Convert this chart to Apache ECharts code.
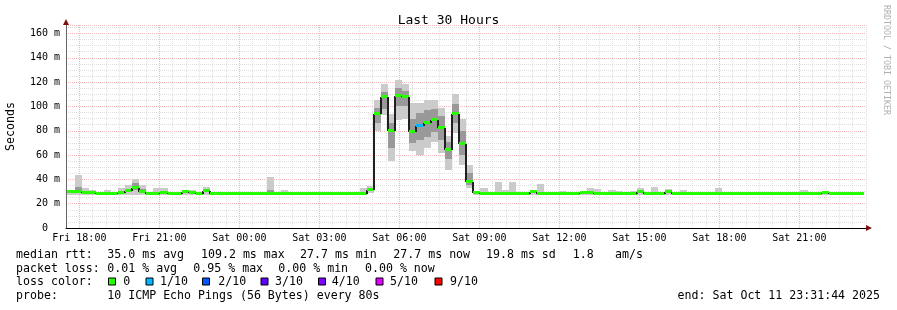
<!DOCTYPE html>
<html><head><meta charset="utf-8">
<script src="https://cdn.jsdelivr.net/npm/echarts@6/dist/echarts.min.js"></script>
<style>html,body{margin:0;padding:0;background:#fff}#c{width:897px;height:310px}</style>
</head><body><div id="c"></div><script>
// time in minutes relative to Fri 18:00
const GRAPH_START = -28.27;
const BUCKET_MIN = 16;
const FIRST_BUCKET = -25.5;
const xTickLabels = ['Fri 18:00','Fri 21:00','Sat 00:00','Sat 03:00','Sat 06:00','Sat 09:00','Sat 12:00','Sat 15:00','Sat 18:00','Sat 21:00'];
const yTickLabels = ['0  ','20 m','40 m','60 m','80 m','100 m','120 m','140 m','160 m'];

const median = [
 29.5,29.5,29,28.5,28,28,28,29,30.5,33,
 29.5,28.2,28.2,29,28.2,28.2,29.8,29,28.2,30.4,
 28,28,28,28,28,28,28,28,28,28,
 28,28,28,28,28,28,28,28,28,28,
 28,28,31,93.5,107.5,80,109,108,79,84,
 86.5,89,82,64.5,94,69,38,28.5,28,28,
 28,28,28,28,28,29.5,28,28,28,28,
 28,28,29,28.5,28,28,28,28,28,28,
 29.5,28,28,28,29.5,28,28,28,28,28,
 28,28,28,28,28,28,28,28,28,28,
 28,28,28,28,28,28,28.5,28,28,28,
 28,28];
const smokeHi = [
 31,43.5,32.5,31,29,31,30,32.5,35,40.5,
 35,29.5,33,33,29.5,29,30.5,31,29,34,
 29,29,29,29,29,29,29,29,42,29,
 31,29,29,29,29,29,29,29,29,29,
 29,33,34.5,105.5,118.5,94,122,118.5,103,103,
 105,105,98.5,75.5,110,90,52,29,32.5,29,
 38,31,38,29,29,31.5,36,29,29,30.5,
 29,29,30.5,32.5,32,29,31,30.5,29,30.5,
 32.5,29,33.7,29,32,29,31,29,29,29,
 29,32.5,29,29,29,29,29,29,29,30,
 29,29,29,31,29,29,30,29,29,29,
 29,29];
const smokeLo = [
 27.5,27.5,27.5,27.5,27.5,27.5,27.5,27.5,27.5,27.5,
 27.5,27.5,27.5,27.5,27.5,27.5,27.5,27.5,27.5,27.5,
 27.5,27.5,27.5,27.5,27.5,27.5,27.5,27.5,27.5,27.5,
 27.5,27.5,27.5,27.5,27.5,27.5,27.5,27.5,27.5,27.5,
 27.5,27.5,29,79.5,93,55.5,89,89.5,63,60,
 66,71,62,48,78,52,33,27.5,27.5,27.5,
 27.5,27.5,27.5,27.5,27.5,27.5,27.5,27.5,27.5,27.5,
 27.5,27.5,27.5,27.5,27.5,27.5,27.5,27.5,27.5,27.5,
 27.5,27.5,27.5,27.5,27.5,27.5,27.5,27.5,27.5,27.5,
 27.5,27.5,27.5,27.5,27.5,27.5,27.5,27.5,27.5,27.5,
 27.5,27.5,27.5,27.5,27.5,27.5,27.5,27.5,27.5,27.5,
 27.5,27.5];
const smokeQ1 = [
 null,29,null,null,null,null,null,null,null,31,
 29,null,null,null,null,null,null,null,null,null,
 null,null,null,null,null,null,null,null,28,null,
 null,null,null,null,null,null,null,null,null,null,
 null,null,null,86,98,66,100,100,70,72,
 75,79,72,57,86,60,35,null,28,null,
 null,null,null,null,null,null,null,null,null,null,
 null,null,null,28,null,null,null,null,null,null,
 null,null,null,null,null,null,null,null,null,null,
 null,null,null,null,null,null,null,null,null,null,
 null,null,null,null,null,null,null,null,null,null,
 null,null];
const smokeQ3 = [
 null,34,null,null,null,null,null,null,null,37,
 32,null,null,null,null,null,null,null,null,null,
 null,null,null,null,null,null,null,null,31,null,
 null,null,null,null,null,null,null,null,null,null,
 null,null,null,99,112,86,115,113,90,95,
 97,98,92,71,102,80,45,null,30,null,
 null,null,null,null,null,null,null,null,null,null,
 null,null,null,30,null,null,null,null,null,null,
 null,null,null,null,null,null,null,null,null,null,
 null,null,null,null,null,null,null,null,null,null,
 null,null,null,null,null,null,null,null,null,null,
 null,null];
const lossTenths = [
 0,0,0,0,0,0,0,0,0,0, 0,0,0,0,0,0,0,0,0,0,
 0,0,0,0,0,0,0,0,0,0, 0,0,0,0,0,0,0,0,0,0,
 0,0,0,0,0,0,0,0,0,1, 0,0,0,0,0,0,0,0,0,0,
 0,0,0,0,0,0,0,0,0,0, 0,0,0,0,0,0,0,0,0,0,
 0,0,0,0,0,0,0,0,0,0, 0,0,0,0,0,0,0,0,0,0,
 0,0,0,0,0,0,0,0,0,0, 0,0];
const lossColors = {0:'#26ff00',1:'#00b8ff',2:'#0059ff',3:'#5e00ff',4:'#7e00ff',5:'#dd00ff',9:'#ff0000'};
const legendLoss = [['0','#26ff00'],['1/10','#00b8ff'],['2/10','#0059ff'],['3/10','#5e00ff'],['4/10','#7e00ff'],['5/10','#dd00ff'],['9/10','#ff0000']];

const bStart = k => (k === 0 ? GRAPH_START : FIRST_BUCKET + BUCKET_MIN * k);
const bEnd = k => FIRST_BUCKET + BUCKET_MIN * (k + 1);

const outerData = median.map((m, k) => [bStart(k), bEnd(k), smokeLo[k], smokeHi[k]]);
const innerData = [];
median.forEach((m, k) => { if (smokeQ1[k] != null) innerData.push([bStart(k), bEnd(k), smokeQ1[k], smokeQ3[k]]); });
const medData = median.map((m, k) => [bStart(k), bEnd(k), m, k === 0 ? NaN : median[k - 1], lossTenths[k]]);

function smokeRender(color) {
  return function (params, api) {
    const a = api.coord([api.value(0), api.value(3)]);
    const b = api.coord([api.value(1), api.value(2)]);
    const x0 = Math.round(a[0]), x1 = Math.round(b[0]);
    return {type: 'rect', shape: {x: x0, y: Math.round(a[1]), width: x1 - x0, height: Math.round(b[1]) - Math.round(a[1])}, style: {fill: color}};
  };
}
function medRender(params, api) {
  const s = api.value(0), e = api.value(1), m = api.value(2), prev = api.value(3), loss = api.value(4);
  const a = api.coord([s, m]), b = api.coord([e, m]);
  const x0 = Math.round(a[0]), x1 = Math.round(b[0]), y = Math.round(a[1]);
  const ch = [];
  if (!isNaN(prev)) {
    const p = api.coord([s, prev]);
    ch.push({type: 'line', shape: {x1: x0, y1: Math.round(p[1]), x2: x0, y2: y}, style: {stroke: '#202020', lineWidth: 2}});
  }
  ch.push({type: 'line', shape: {x1: x0, y1: y, x2: x1, y2: y}, style: {stroke: '#202020', lineWidth: 2}});
  ch.push({type: 'rect', shape: {x: x0, y: y - 2, width: x1 - x0, height: 3}, style: {fill: lossColors[loss]}});
  return {type: 'group', children: ch};
}

const MONO = '"DejaVu Sans Mono", monospace';
const GRAY = '#e0e0e0', RED = '#f5b8b8';
const xGridColors = [GRAY, RED, GRAY, GRAY, GRAY, GRAY];

const LF = '11.6px ' + MONO;
const txt = (s, x, y, extra) => Object.assign({type: 'text', x: x, y: y, silent: true, style: {text: s, font: LF, fill: '#000', textAlign: 'left', textVerticalAlign: 'middle', align: 'left', verticalAlign: 'middle'}}, extra || {});
const graphics = [
  txt('median rtt:', 16, 255), txt('35.0 ms avg', 107.3, 255), txt('109.2 ms max', 201, 255), txt('27.7 ms min', 300, 255),
  txt('27.7 ms now', 393.3, 255), txt('19.8 ms sd', 486, 255), txt('1.8', 572.7, 255), txt('am/s', 615, 255),
  txt('packet loss:', 16, 268.5), txt('0.01 % avg', 107.3, 268.5), txt('0.95 % max', 193.3, 268.5), txt('0.00 % min', 278.3, 268.5), txt('0.00 % now', 365, 268.5),
  txt('loss color:', 16, 282),
  txt('probe:', 16, 295.5), txt('10 ICMP Echo Pings (56 Bytes) every 80s', 107.3, 295.5),
  {type: 'text', x: 880, y: 295.5, silent: true, style: {text: 'end: Sat Oct 11 23:31:44 2025', font: LF, fill: '#000', textAlign: 'right', textVerticalAlign: 'middle', align: 'right', verticalAlign: 'middle'}},
  {type: 'text', x: 886, y: 5, rotation: -Math.PI / 2, silent: true, style: {text: 'RRDTOOL / TOBI OETIKER', font: '8.3px ' + MONO, fill: '#b0b0b0', textAlign: 'left', textVerticalAlign: 'middle', align: 'left', verticalAlign: 'middle'}}
];
const boxX = [108.5, 146, 202.5, 261, 318.5, 376, 435];
const labX = [123.3, 160, 218.3, 275, 331.7, 390, 450];
legendLoss.forEach((l, i) => {
  graphics.push({type: 'rect', silent: true, shape: {x: boxX[i], y: 278, width: 7, height: 7}, style: {fill: l[1], stroke: '#000', lineWidth: 1}});
  graphics.push(txt(l[0], labX[i], 282));
});

const chart = echarts.init(document.getElementById('c'), null, {renderer: 'canvas'});
chart.setOption({
  animation: false,
  backgroundColor: '#fff',
  title: {text: 'Last 30 Hours', left: 'center', top: 9, textStyle: {fontFamily: MONO, fontSize: 13, fontWeight: 'normal', color: '#000'}},
  grid: {left: 66, right: 31, top: 25, bottom: 82, containLabel: false, outerBoundsMode: 'none'},
  xAxis: [{
    type: 'value', min: -30, max: 1770, interval: 30,
    axisLine: {show: true, onZero: false, lineStyle: {color: '#000', width: 1}},
    axisTick: {show: false},
    axisLabel: {show: true, margin: 5, color: '#000', fontFamily: MONO, fontSize: 10, showMinLabel: true, showMaxLabel: true,
      formatter: v => (v % 180 === 0 && v >= 0) ? (xTickLabels[v / 180] || '') : ''},
    splitLine: {show: true, lineStyle: {color: xGridColors, type: [1, 1], width: 1}}
  }, {
    type: 'value', min: -30, max: 1770, position: 'bottom',
    axisLine: {show: true, onZero: false, symbol: ['none', 'triangle'], symbolSize: [6, 6], symbolOffset: [0, 3], lineStyle: {color: '#7a1010', width: 0.01}},
    axisTick: {show: false}, axisLabel: {show: false}, splitLine: {show: false}
  }],
  yAxis: [{
    type: 'value', min: 0, max: 167, interval: 20,
    name: 'Seconds', nameLocation: 'middle', nameGap: 49, nameRotate: 90,
    nameTextStyle: {fontFamily: MONO, fontSize: 11.6, color: '#000'},
    axisLine: {show: true, onZero: false, lineStyle: {color: '#666', width: 1}},
    axisTick: {show: false},
    axisLabel: {margin: 6, color: '#000', fontFamily: MONO, fontSize: 10, formatter: v => yTickLabels[v / 20] || ''},
    splitLine: {show: true, lineStyle: {color: RED, type: [1, 1], width: 1}},
    minorTick: {show: false, splitNumber: 4},
    minorSplitLine: {show: true, lineStyle: {color: GRAY, type: [1, 1], width: 1}}
  }, {
    type: 'value', min: 0, max: 167, position: 'left',
    axisLine: {show: true, onZero: false, symbol: ['none', 'triangle'], symbolSize: [6, 6], symbolOffset: [0, 3], lineStyle: {color: '#7a1010', width: 0.01}},
    axisTick: {show: false}, axisLabel: {show: false}, splitLine: {show: false}
  }],
  series: [
    {type: 'custom', renderItem: smokeRender('#cbcbcb'), data: outerData, encode: {x: [0, 1], y: [2, 3]}, z: 2, silent: true},
    {type: 'custom', renderItem: smokeRender('#999999'), data: innerData, encode: {x: [0, 1], y: [2, 3]}, z: 3, silent: true},
    {type: 'custom', renderItem: medRender, data: medData, encode: {x: [0, 1], y: [2]}, z: 4, silent: true}
  ],
  graphic: graphics
});
</script></body></html>
